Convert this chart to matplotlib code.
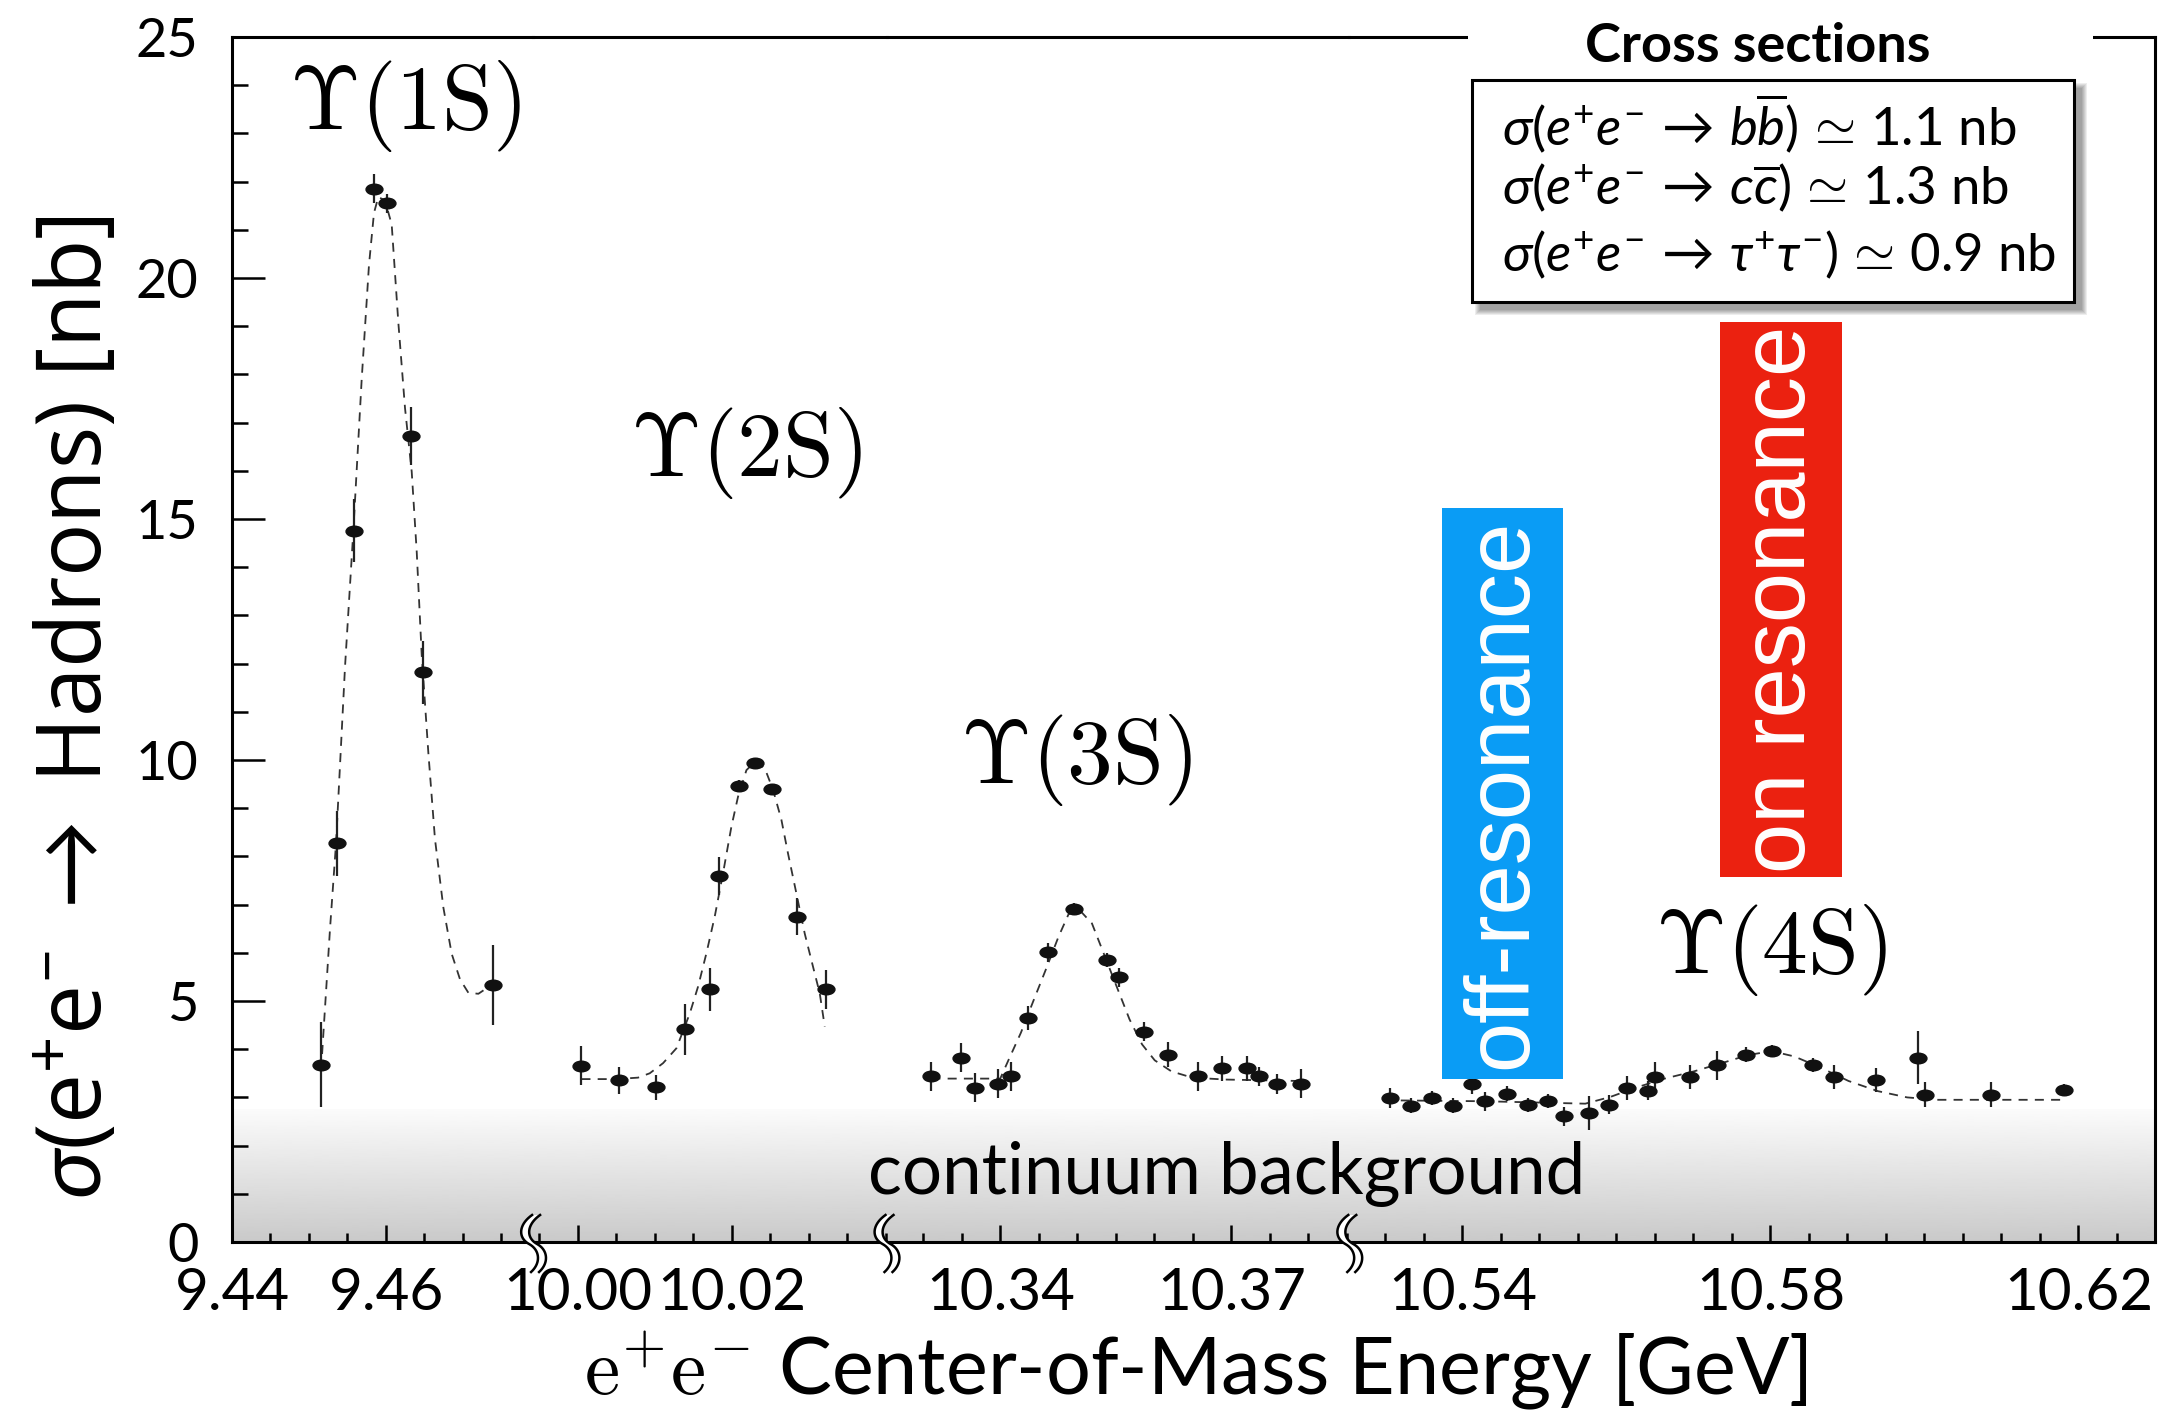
import numpy as np
import matplotlib
matplotlib.use("Agg")
import matplotlib.pyplot as plt
from matplotlib.markers import MarkerStyle
from matplotlib.patches import Rectangle, Polygon
from matplotlib.lines import Line2D
from matplotlib.transforms import Affine2D
from matplotlib.ticker import MultipleLocator, FixedLocator, FormatStrFormatter

plt.rcParams['font.family'] = ['Lato', 'DejaVu Sans']
plt.rcParams['mathtext.fontset'] = 'custom'
plt.rcParams['mathtext.rm'] = 'Lato'
plt.rcParams['mathtext.it'] = 'Lato:italic'
plt.rcParams['mathtext.bf'] = 'Lato:bold'

# ---------------- data (GeV, nb) ----------------
# Upsilon(1S)
e1 = [9.4516, 9.4537, 9.4559, 9.4585, 9.4601, 9.4633, 9.4648, 9.4739]
s1 = [3.68, 8.27, 14.76, 21.85, 21.55, 16.72, 11.82, 5.33]
err1 = [0.88, 0.68, 0.65, 0.30, 0.20, 0.60, 0.65, 0.83]
fit1_e = [9.45170, 9.45273, 9.45351, 9.45468, 9.45576, 9.45684, 9.45779, 9.45844,
          9.45900, 9.45987, 9.46074, 9.46160, 9.46247, 9.46334, 9.46399, 9.46464,
          9.46550, 9.46636, 9.46745, 9.46853, 9.46961, 9.47070, 9.47200, 9.47330]
fit1_s = [3.90, 6.50, 8.27, 11.94, 14.76, 17.89, 20.27, 21.35,
          21.68, 21.61, 21.11, 19.08, 17.30, 15.98, 14.32, 12.17,
          10.15, 8.36, 6.94, 5.98, 5.45, 5.17, 5.15, 5.29]

# Upsilon(2S)
e2 = [10.00048, 10.00537, 10.01013, 10.01390, 10.01714, 10.01831, 10.02091,
      10.02307, 10.02528, 10.02848, 10.03230]
s2 = [3.66, 3.36, 3.21, 4.41, 5.24, 7.59, 9.47, 9.93, 9.39, 6.75, 5.24]
err2 = [0.40, 0.28, 0.26, 0.53, 0.45, 0.40, 0.12, 0.12, 0.12, 0.38, 0.40]
fit2_e = [10.00048, 10.00502, 10.00783, 10.00935, 10.01108, 10.01282, 10.01455,
          10.01563, 10.01671, 10.01779, 10.01887, 10.01996, 10.02082, 10.02191,
          10.02307, 10.02429, 10.02537, 10.02645, 10.02731, 10.02840, 10.02948,
          10.03056, 10.03143, 10.03208]
fit2_s = [3.38, 3.38, 3.41, 3.50, 3.71, 4.02, 4.74, 5.30, 5.99, 6.75, 7.65, 8.62,
          9.24, 9.79, 9.97, 9.83, 9.38, 8.76, 8.06, 7.23, 6.40, 5.71, 5.16, 4.47]

# Upsilon(3S)
e3 = [10.33103, 10.33483, 10.33668, 10.33971, 10.34135, 10.34352, 10.34623,
      10.34949, 10.35383, 10.35535, 10.35861, 10.36177, 10.36567, 10.36882,
      10.37208, 10.37360, 10.37588, 10.37903]
s3 = [3.44, 3.82, 3.20, 3.28, 3.44, 4.65, 6.01, 6.91, 5.85, 5.49, 4.36, 3.89,
      3.44, 3.60, 3.60, 3.44, 3.28, 3.28]
err3 = [0.30, 0.30, 0.30, 0.30, 0.30, 0.25, 0.20, 0.12, 0.15, 0.20, 0.20, 0.25,
        0.30, 0.25, 0.25, 0.20, 0.20, 0.30]
fit3_e = [10.33103, 10.33997, 10.34103, 10.34265, 10.34427, 10.34591, 10.34753,
          10.34884, 10.35025, 10.35188, 10.35350, 10.35514, 10.35676, 10.35839,
          10.36003, 10.36220, 10.36491, 10.36926, 10.37903]
fit3_s = [3.39, 3.39, 3.77, 4.34, 5.00, 5.66, 6.33, 6.80, 6.89, 6.61, 5.95, 5.28,
          4.62, 4.10, 3.77, 3.54, 3.41, 3.37, 3.34]

# Upsilon(4S)
e4 = [10.53065, 10.53336, 10.53608, 10.53879, 10.54129, 10.54292, 10.54574,
      10.54856, 10.55106, 10.55323, 10.55638, 10.55899, 10.56138, 10.56409,
      10.56496, 10.56952, 10.57311, 10.57679, 10.58016, 10.58548, 10.58831,
      10.59374, 10.59917, 10.60004, 10.60861, 10.61817]
s4 = [2.99, 2.83, 2.99, 2.83, 3.27, 2.92, 3.08, 2.84, 2.92, 2.61, 2.68, 2.85,
      3.20, 3.14, 3.43, 3.43, 3.67, 3.89, 3.96, 3.67, 3.43, 3.36, 3.82, 3.06,
      3.06, 3.15]
err4 = [0.20, 0.15, 0.15, 0.15, 0.20, 0.20, 0.15, 0.15, 0.15, 0.20, 0.35, 0.20,
        0.25, 0.20, 0.30, 0.25, 0.30, 0.15, 0.12, 0.15, 0.25, 0.25, 0.55, 0.25,
        0.25, 0.12]
fit4_e = [10.52988, 10.54292, 10.55595, 10.55921, 10.56247, 10.56626, 10.57006,
          10.57386, 10.57712, 10.58016, 10.58309, 10.58635, 10.59015, 10.59395,
          10.59775, 10.60156, 10.61839]
fit4_s = [2.94, 2.92, 2.87, 3.01, 3.20, 3.39, 3.54, 3.72, 3.88, 3.96, 3.85, 3.63,
          3.34, 3.13, 3.00, 2.95, 2.95]

seg_lims = [(9.44, 9.4791), (9.9942, 10.0401), (10.3252, 10.3853), (10.5253, 10.6299)]
seg_major = [[9.44, 9.46], [10.00, 10.02], [10.34, 10.37], [10.54, 10.58, 10.62]]
seg_labels = [r'$\Upsilon(\mathrm{1S})$', r'$\Upsilon(\mathrm{2S})$',
              r'$\Upsilon(\mathrm{3S})$', r'$\Upsilon(\mathrm{4S})$']
xsec_lines = [r'$\sigma(e^{+}e^{-}\,\rightarrow\,b\overline{b})\,\simeq\,\mathrm{1.1\ nb}$',
              r'$\sigma(e^{+}e^{-}\,\rightarrow\,c\overline{c})\,\simeq\,\mathrm{1.3\ nb}$',
              r'$\sigma(e^{+}e^{-}\,\rightarrow\,\tau^{+}\tau^{-})\,\simeq\,\mathrm{0.9\ nb}$']

data = [(e1, s1, err1, fit1_e, fit1_s), (e2, s2, err2, fit2_e, fit2_s),
        (e3, s3, err3, fit3_e, fit3_s), (e4, s4, err4, fit4_e, fit4_s)]

# ---------------- layout (pixels) ----------------
W, H = 2161, 1415
PX_PER_GEV = 7700
X0, YTOP, YBOT = 232, 37, 1242


def fx(px):
    return px / W


def fy(py):
    return 1 - py / H


fig = plt.figure(figsize=(W / 100, H / 100), dpi=100)

total_w = sum((hi - lo) * PX_PER_GEV for lo, hi in seg_lims)
bg = fig.add_axes([fx(X0), fy(YBOT), total_w / W, (YBOT - YTOP) / H], zorder=-1)
grad = np.linspace(0.79, 0.985, 256).reshape(-1, 1)
bg.imshow(grad, cmap='gray', vmin=0, vmax=1, extent=[0, 1, 0, 2.75],
          aspect='auto', origin='lower')
bg.set_xlim(0, 1)
bg.set_ylim(0, 25)
bg.axis('off')

ell = MarkerStyle('o', transform=Affine2D().scale(1.35, 0.85))

left = X0
bounds = []
axes = []
for i, ((lo, hi), majors, (e, s, err, fe, fs)) in enumerate(zip(seg_lims, seg_major, data)):
    w = (hi - lo) * PX_PER_GEV
    ax = fig.add_axes([fx(left), fy(YBOT), w / W, (YBOT - YTOP) / H])
    ax.set_facecolor('none')
    ax.set_xlim(lo, hi)
    ax.set_ylim(0, 25)

    ax.plot(fe, fs, ls=(0, (5, 4)), lw=1.3, color='#333333', zorder=2)
    ax.errorbar(e, s, yerr=err, fmt='none', ecolor='#222222', elinewidth=1.6,
                capsize=0, zorder=3)
    ax.plot(e, s, ls='none', marker=ell, ms=9, color='#111111', zorder=4)

    ax.xaxis.set_major_locator(FixedLocator(majors))
    ax.xaxis.set_minor_locator(MultipleLocator(0.005))
    ax.xaxis.set_major_formatter(FormatStrFormatter('%.2f'))
    ax.tick_params(axis='x', which='major', direction='in', length=12, width=1.8,
                   labelsize=42, pad=18, top=False)
    ax.tick_params(axis='x', which='minor', direction='in', length=6.5, width=1.8,
                   top=False)
    if i == 0:
        ax.yaxis.set_major_locator(MultipleLocator(5))
        ax.yaxis.set_minor_locator(MultipleLocator(1))
        ax.tick_params(axis='y', which='major', direction='in', length=24, width=1.8,
                       labelsize=39, pad=24, right=False)
        ax.tick_params(axis='y', which='minor', direction='in', length=11.5,
                       width=1.8, right=False)
    else:
        ax.tick_params(axis='y', which='both', left=False, right=False,
                       labelleft=False)
    for sp in ax.spines.values():
        sp.set_linewidth(2.2)
    ax.spines['left'].set_visible(i == 0)
    ax.spines['right'].set_visible(i == len(seg_lims) - 1)
    axes.append(ax)
    left += w
    bounds.append(left)

# ---------------- axis break marks ----------------
def bez(p0, p1, p2, p3, n=20):
    t = np.linspace(0, 1, n)[:, None]
    return ((1 - t) ** 3 * np.array(p0) + 3 * (1 - t) ** 2 * t * np.array(p1)
            + 3 * (1 - t) * t ** 2 * np.array(p2) + t ** 3 * np.array(p3))


scurve = np.vstack([bez((3, -27), (-11, -17), (-11, -4), (0, 2)),
                    bez((0, 2), (11, 8), (12, 21), (2, 30))])
for xb in bounds[:-1]:
    a = scurve + np.array([xb - 4, YBOT])
    b = scurve + np.array([xb + 4, YBOT])
    poly = np.vstack([a, b[::-1]])
    fig.add_artist(Polygon(np.column_stack([fx(poly[:, 0]), fy(poly[:, 1])]),
                           closed=True, facecolor='white', edgecolor='none',
                           transform=fig.transFigure, zorder=5))
    for c in (a, b):
        fig.add_artist(Line2D(fx(c[:, 0]), fy(c[:, 1]), color='black', lw=1.8,
                              transform=fig.transFigure, zorder=6))

# ---------------- labels ----------------
label_pos = [(405, 106), (746, 453), (1076, 760), (1771, 950)]
for lab, (px, py) in zip(seg_labels, label_pos):
    fig.text(fx(px), fy(py), lab, math_fontfamily='cm', fontsize=66,
             ha='center', va='center')

fig.text(fx(1227), fy(1194), 'continuum background', fontsize=51,
         ha='center', va='baseline')

fig.text(fx(1196), fy(1371), r'$\mathrm{e^{+}e^{-}}$ Center-of-Mass Energy [GeV]',
         math_fontfamily='cm', fontsize=57, ha='center', va='center')
fig.text(fx(78), fy(1199), r'$\sigma$(e$^{+}$e$^{-}$ $\rightarrow$ Hadrons) [nb]',
         rotation=90, fontsize=64, family='Open Sans', ha='center', va='bottom')

# ---------------- cross-section box ----------------
fig.add_artist(Rectangle((fx(1468), fy(52)), (2093 - 1468) / W, 30 / H,
                         transform=fig.transFigure, facecolor='white',
                         edgecolor='none', zorder=5))
bx0, bx1, by0, by1 = 1472, 2074, 80, 302
for k in range(6):
    fig.add_artist(Rectangle((fx(bx0 + 8 - k), fy(by1 + 8 + k)),
                             (bx1 - bx0 + 2 * k) / W, (by1 - by0 + 2 * k) / H,
                             transform=fig.transFigure, facecolor='black',
                             edgecolor='none', alpha=0.07, zorder=5))
fig.add_artist(Rectangle((fx(bx0), fy(by1)), (bx1 - bx0) / W, (by1 - by0) / H,
                         transform=fig.transFigure, facecolor='white',
                         edgecolor='black', lw=2.2, zorder=5))
fig.text(fx(1758), fy(46), 'Cross sections', fontsize=39, fontweight='bold',
         ha='center', va='center', zorder=7)
for line, py in zip(xsec_lines, [123, 188, 255]):
    fig.text(fx(1502), fy(py), line, fontsize=38, ha='left', va='center', zorder=7)

# ---------------- resonance tags ----------------
fig.add_artist(Rectangle((fx(1442), fy(1079)), (1563 - 1442) / W, (1079 - 508) / H,
                         transform=fig.transFigure, facecolor='#0A9CF5',
                         edgecolor='none', zorder=5))
fig.text(fx(1502.5), fy(793.5), 'off-resonance', rotation=90, color='white',
         fontsize=65, family='Liberation Sans', ha='center', va='center', zorder=7)
fig.add_artist(Rectangle((fx(1720), fy(877)), (1842 - 1720) / W, (877 - 322) / H,
                         transform=fig.transFigure, facecolor='#EB2110',
                         edgecolor='none', zorder=5))
fig.text(fx(1781), fy(599.5), 'on resonance', rotation=90, color='white',
         fontsize=65, family='Liberation Sans', ha='center', va='center', zorder=7)

fig.savefig('out.png', dpi=100)
